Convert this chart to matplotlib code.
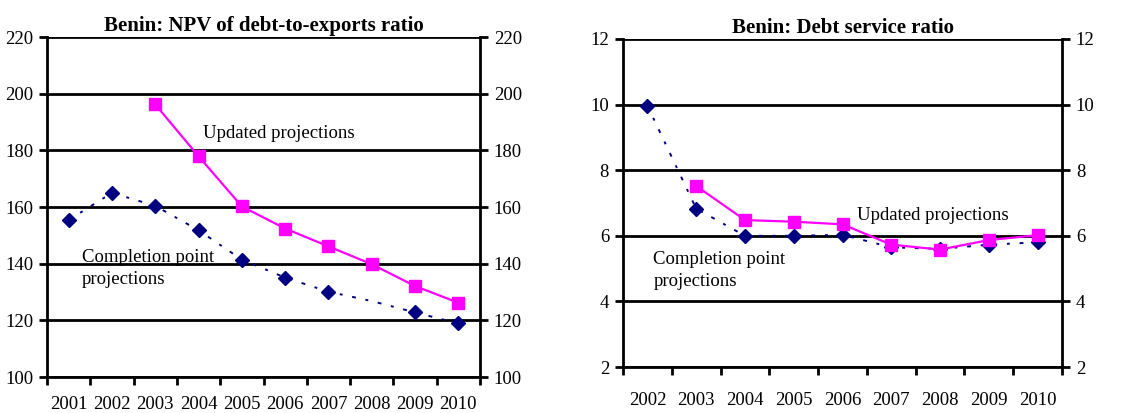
import matplotlib.pyplot as plt
from matplotlib.ticker import MultipleLocator, FixedLocator

plt.rcParams['font.family'] = ['Liberation Serif', 'DejaVu Serif']

# NPV of debt-to-exports ratio
npv_years = ['2001', '2002', '2003', '2004', '2005', '2006', '2007', '2008', '2009', '2010']
npv_completion = [155.4, 165.0, 160.4, 151.8, 141.4, 135.1, 130.1, 126.8, 122.8, 118.9]
npv_updated = [None, None, 196.2, 177.9, 160.2, 152.4, 146.1, 139.8, 132.1, 126.2]

# Debt service ratio
ds_years = ['2002', '2003', '2004', '2005', '2006', '2007', '2008', '2009', '2010']
ds_completion = [9.97, 6.83, 6.00, 6.00, 6.03, 5.65, 5.60, 5.73, 5.80]
ds_updated = [None, 7.52, 6.48, 6.43, 6.35, 5.73, 5.58, 5.87, 6.02]

navy = '#000080'
magenta = '#ff00ff'
fs = 13.5


def draw_panel(ax, years, completion, updated, title, ylim, ystep, xpad, skip_marker=None):
    x = list(range(len(years)))
    marks = [i for i in x if i != skip_marker]
    ax.plot(x, completion, color=navy, lw=1.4, ls=(0, (2, 5, 1.5, 5)),
            marker='D', ms=7, markevery=marks, zorder=3)
    ux = [i for i, v in zip(x, updated) if v is not None]
    uy = [v for v in updated if v is not None]
    ax.plot(ux, uy, color=magenta, lw=1.6, marker='s', ms=8, zorder=4)

    ax.set_xlim(-0.5, len(years) - 0.5)
    ax.set_ylim(*ylim)
    ax.yaxis.set_major_locator(MultipleLocator(ystep))
    ax.grid(axis='y', color='black', lw=2)
    ax.set_axisbelow(True)

    ax.xaxis.set_major_locator(FixedLocator(x))
    ax.set_xticklabels(years, fontsize=fs)
    ax.xaxis.set_minor_locator(FixedLocator([i - 0.5 for i in range(len(years) + 1)]))
    ax.tick_params(axis='x', which='major', length=0, pad=xpad)
    ax.tick_params(axis='x', which='minor', length=6, width=2, direction='out')
    ax.tick_params(axis='y', labelsize=fs, length=6, width=2, direction='out',
                   right=True, labelright=True, pad=4)
    for s in ax.spines.values():
        s.set_linewidth(2)
    ax.spines['top'].set_visible(False)
    ax.set_title(title, fontsize=15, fontweight='bold', pad=4)


fig = plt.figure(figsize=(11.41, 4.13), dpi=100)
ax1 = fig.add_axes([47 / 1141, 1 - 377 / 413, 433 / 1141, 340 / 413])
ax2 = fig.add_axes([623 / 1141, 1 - 367 / 413, 439 / 1141, 328 / 413])

draw_panel(ax1, npv_years, npv_completion, npv_updated,
           'Benin: NPV of debt-to-exports ratio', (100, 220), 20, 14, skip_marker=7)
ax1.text(3.1, 185.9, 'Updated projections', fontsize=fs, va='center')
ax1.text(0.31, 138.3, 'Completion point\nprojections', fontsize=fs, va='center',
         linespacing=1.45)

draw_panel(ax2, ds_years, ds_completion, ds_updated,
           'Benin: Debt service ratio', (2, 12), 2, 18)
ax2.text(4.3, 6.63, 'Updated projections', fontsize=fs, va='center')
ax2.text(0.12, 4.94, 'Completion point\nprojections', fontsize=fs, va='center',
         linespacing=1.45)

fig.savefig('out.png', dpi=100)
plt.close(fig)
